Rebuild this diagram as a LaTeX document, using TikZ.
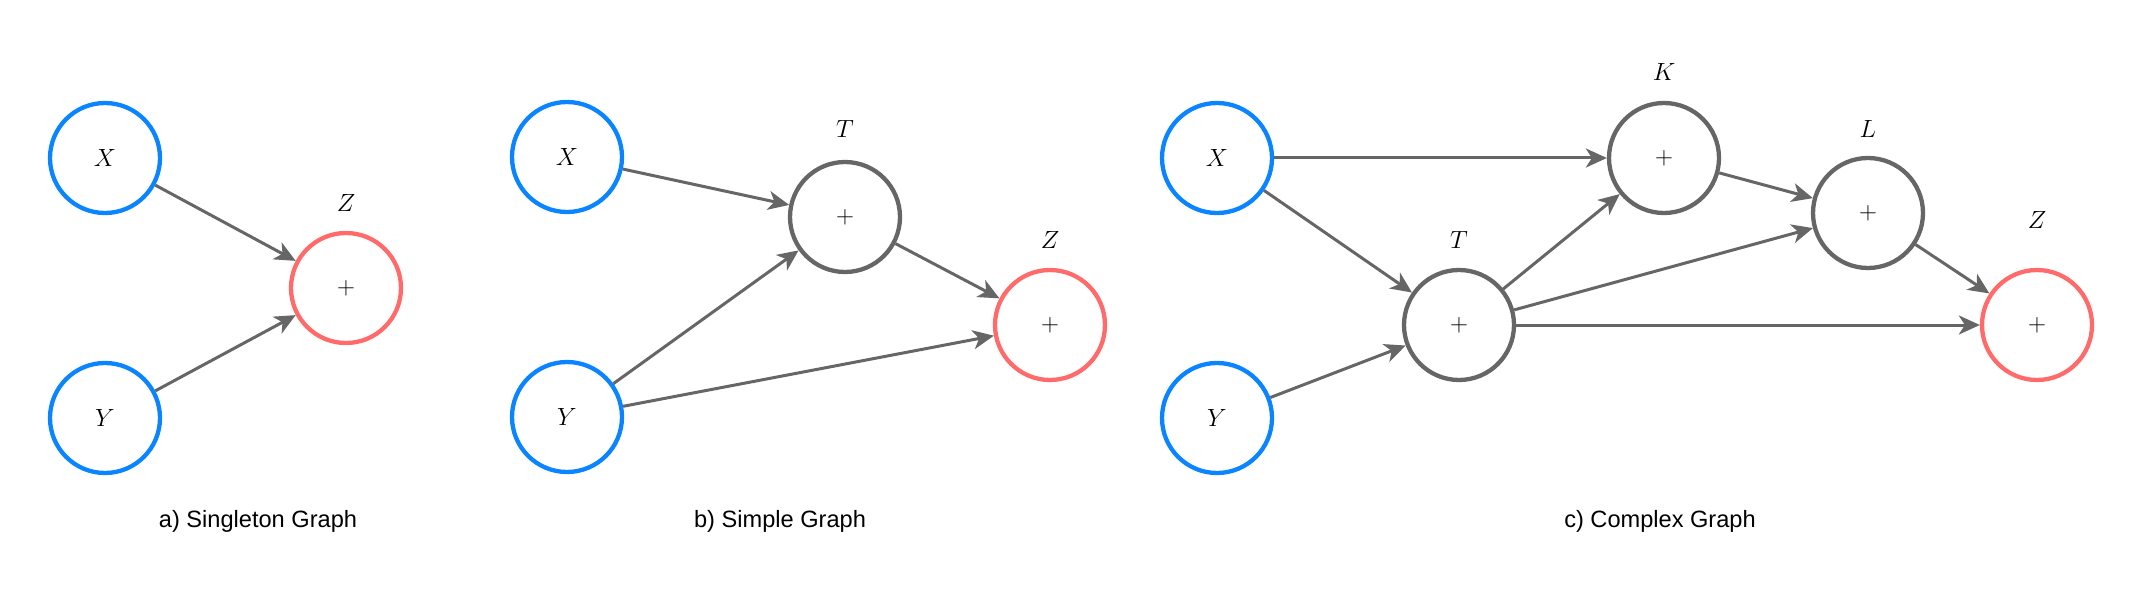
\documentclass[tikz,border=0pt]{standalone}
\usepackage{fontspec}
\setmainfont{Liberation Sans}
\usetikzlibrary{arrows.meta}
\definecolor{inblue}{HTML}{0A84FF}
\definecolor{outred}{HTML}{FF6B6B}
\definecolor{edgegray}{HTML}{666666}
\tikzset{
  vnode/.style={circle, minimum size=110pt, inner sep=0pt, line width=4.3pt, font=\fontsize{26}{30}\selectfont},
  innode/.style={vnode, draw=inblue},
  opnode/.style={vnode, draw=edgegray},
  outnode/.style={vnode, draw=outred},
  lbl/.style={font=\fontsize{26}{30}\selectfont, inner sep=0pt},
  captxt/.style={font=\fontsize{23.6}{28}\selectfont, inner sep=0pt},
  edge/.style={draw=edgegray, line width=3pt, -{Stealth[length=21pt, width=19pt, inset=6pt]}}
}
\begin{document}
\begin{tikzpicture}[x=1pt, y=-1pt]
\useasboundingbox (0,0) rectangle (2141,596);
% panel a
\node[innode] (ax) at (105,158) {$X$};
\node[innode] (ay) at (105,418) {$Y$};
\node[outnode] (az) at (346,288) {$+$};
\node[lbl] (azl) at (346,203) {$Z$};
\draw[edge] (ax) -- (az);
\draw[edge] (ay) -- (az);
\node[captxt] (capa) at (258,521) {a) Singleton Graph};
% panel b
\node[innode] (bx) at (567,157) {$X$};
\node[innode] (by) at (567,417) {$Y$};
\node[opnode] (bt) at (845,217) {$+$};
\node[lbl] (btl) at (845,129) {$T$};
\node[outnode] (bz) at (1050,325) {$+$};
\node[lbl] (bzl) at (1050,240) {$Z$};
\draw[edge] (bx) -- (bt);
\draw[edge] (by) -- (bt);
\draw[edge] (bt) -- (bz);
\draw[edge] (by) -- (bz);
\node[captxt] (capb) at (780,521) {b) Simple Graph};
% panel c
\node[innode] (cx) at (1217,158) {$X$};
\node[innode] (cy) at (1217,418) {$Y$};
\node[opnode] (ck) at (1664,158) {$+$};
\node[lbl] (ckl) at (1664,72) {$K$};
\node[opnode] (cl) at (1868,213) {$+$};
\node[lbl] (cll) at (1868,129) {$L$};
\node[opnode] (ct) at (1459,325) {$+$};
\node[lbl] (ctl) at (1459,240) {$T$};
\node[outnode] (cz) at (2037,325) {$+$};
\node[lbl] (czl) at (2037,220) {$Z$};
\draw[edge] (cx) -- (ck);
\draw[edge] (cx) -- (ct);
\draw[edge] (cy) -- (ct);
\draw[edge] (ct) -- (ck);
\draw[edge] (ct) -- (cl);
\draw[edge] (ct) -- (cz);
\draw[edge] (ck) -- (cl);
\draw[edge] (cl) -- (cz);
\node[captxt] (capc) at (1660,521) {c) Complex Graph};
\end{tikzpicture}
\end{document}
